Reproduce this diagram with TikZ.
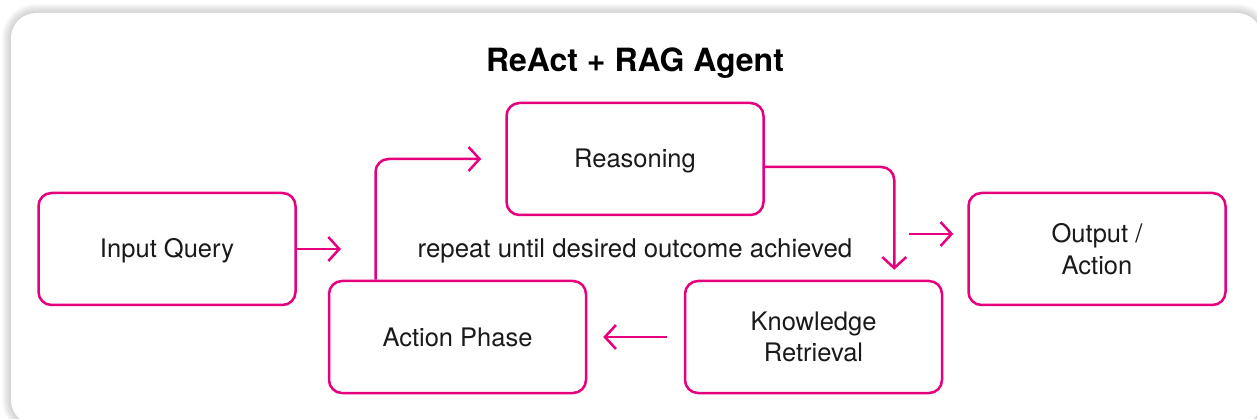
\documentclass[tikz,border=0pt]{standalone}
\usepackage{fontspec}
\setmainfont{TeX Gyre Heros}
\usetikzlibrary{arrows.meta}
\definecolor{pinkc}{RGB}{230,0,126}
\definecolor{txt}{RGB}{26,26,26}
\newcommand\mystrut{\rule[-6pt]{0pt}{30pt}}
\tikzset{
  box/.style={draw=pinkc, line width=2.5pt, rounded corners=13pt, minimum width=257pt, minimum height=112pt, inner sep=0pt, align=center, text=txt, font=\fontsize{25.5}{31}\selectfont},
  arr/.style={draw=pinkc, line width=2.5pt, -{Straight Barb[length=11pt,width=24pt,line width=2.5pt]}},
}
\begin{document}
\begin{tikzpicture}[x=1pt,y=-1pt]
\useasboundingbox (0,0) rectangle (1257,419);
% frame with soft shadow
\foreach \d in {1,...,9}{
  \fill[black,opacity=0.018,rounded corners=25pt+\d pt] (11-\d,13-\d) rectangle (1262+\d,425+\d);
}
\fill[white,rounded corners=25pt] (11,13) rectangle (1262,425);
\node[font=\bfseries\fontsize{32}{38}\selectfont, text=black] (title) at (635,62.5) {\mystrut ReAct + RAG Agent};
\node[box] (in) at (167,249) {\mystrut Input Query};
\node[box] (rea) at (635,159) {\mystrut Reasoning};
\node[box, font=\fontsize{25.5}{32}\selectfont] (out) at (1097,249) {Output /\\Action};
\node[box] (act) at (457.5,337) {\mystrut Action Phase};
\node[box] (kno) at (813.5,337) {Knowledge\\Retrieval};
\node[text=txt, font=\fontsize{25.8}{31}\selectfont] (rep) at (635,249) {\mystrut repeat until desired outcome achieved};
\coordinate (inend) at (341,249);
\coordinate (outstart) at (909,234);
\draw[arr] (in.east) -- (inend);
\draw[arr, rounded corners=13pt, shorten >=24pt] ([xshift=-82pt]act.north) |- (rea.west);
\draw[arr, rounded corners=13pt, shorten >=10pt] ([yshift=-8pt]rea.east) -| ([xshift=-49pt]kno.north east);
\draw[arr, shorten >=14pt] (outstart) -- (outstart -| out.west);
\draw[arr, shorten <=17pt, shorten >=16pt] (kno.west) -- (act.east);
\end{tikzpicture}
\end{document}
